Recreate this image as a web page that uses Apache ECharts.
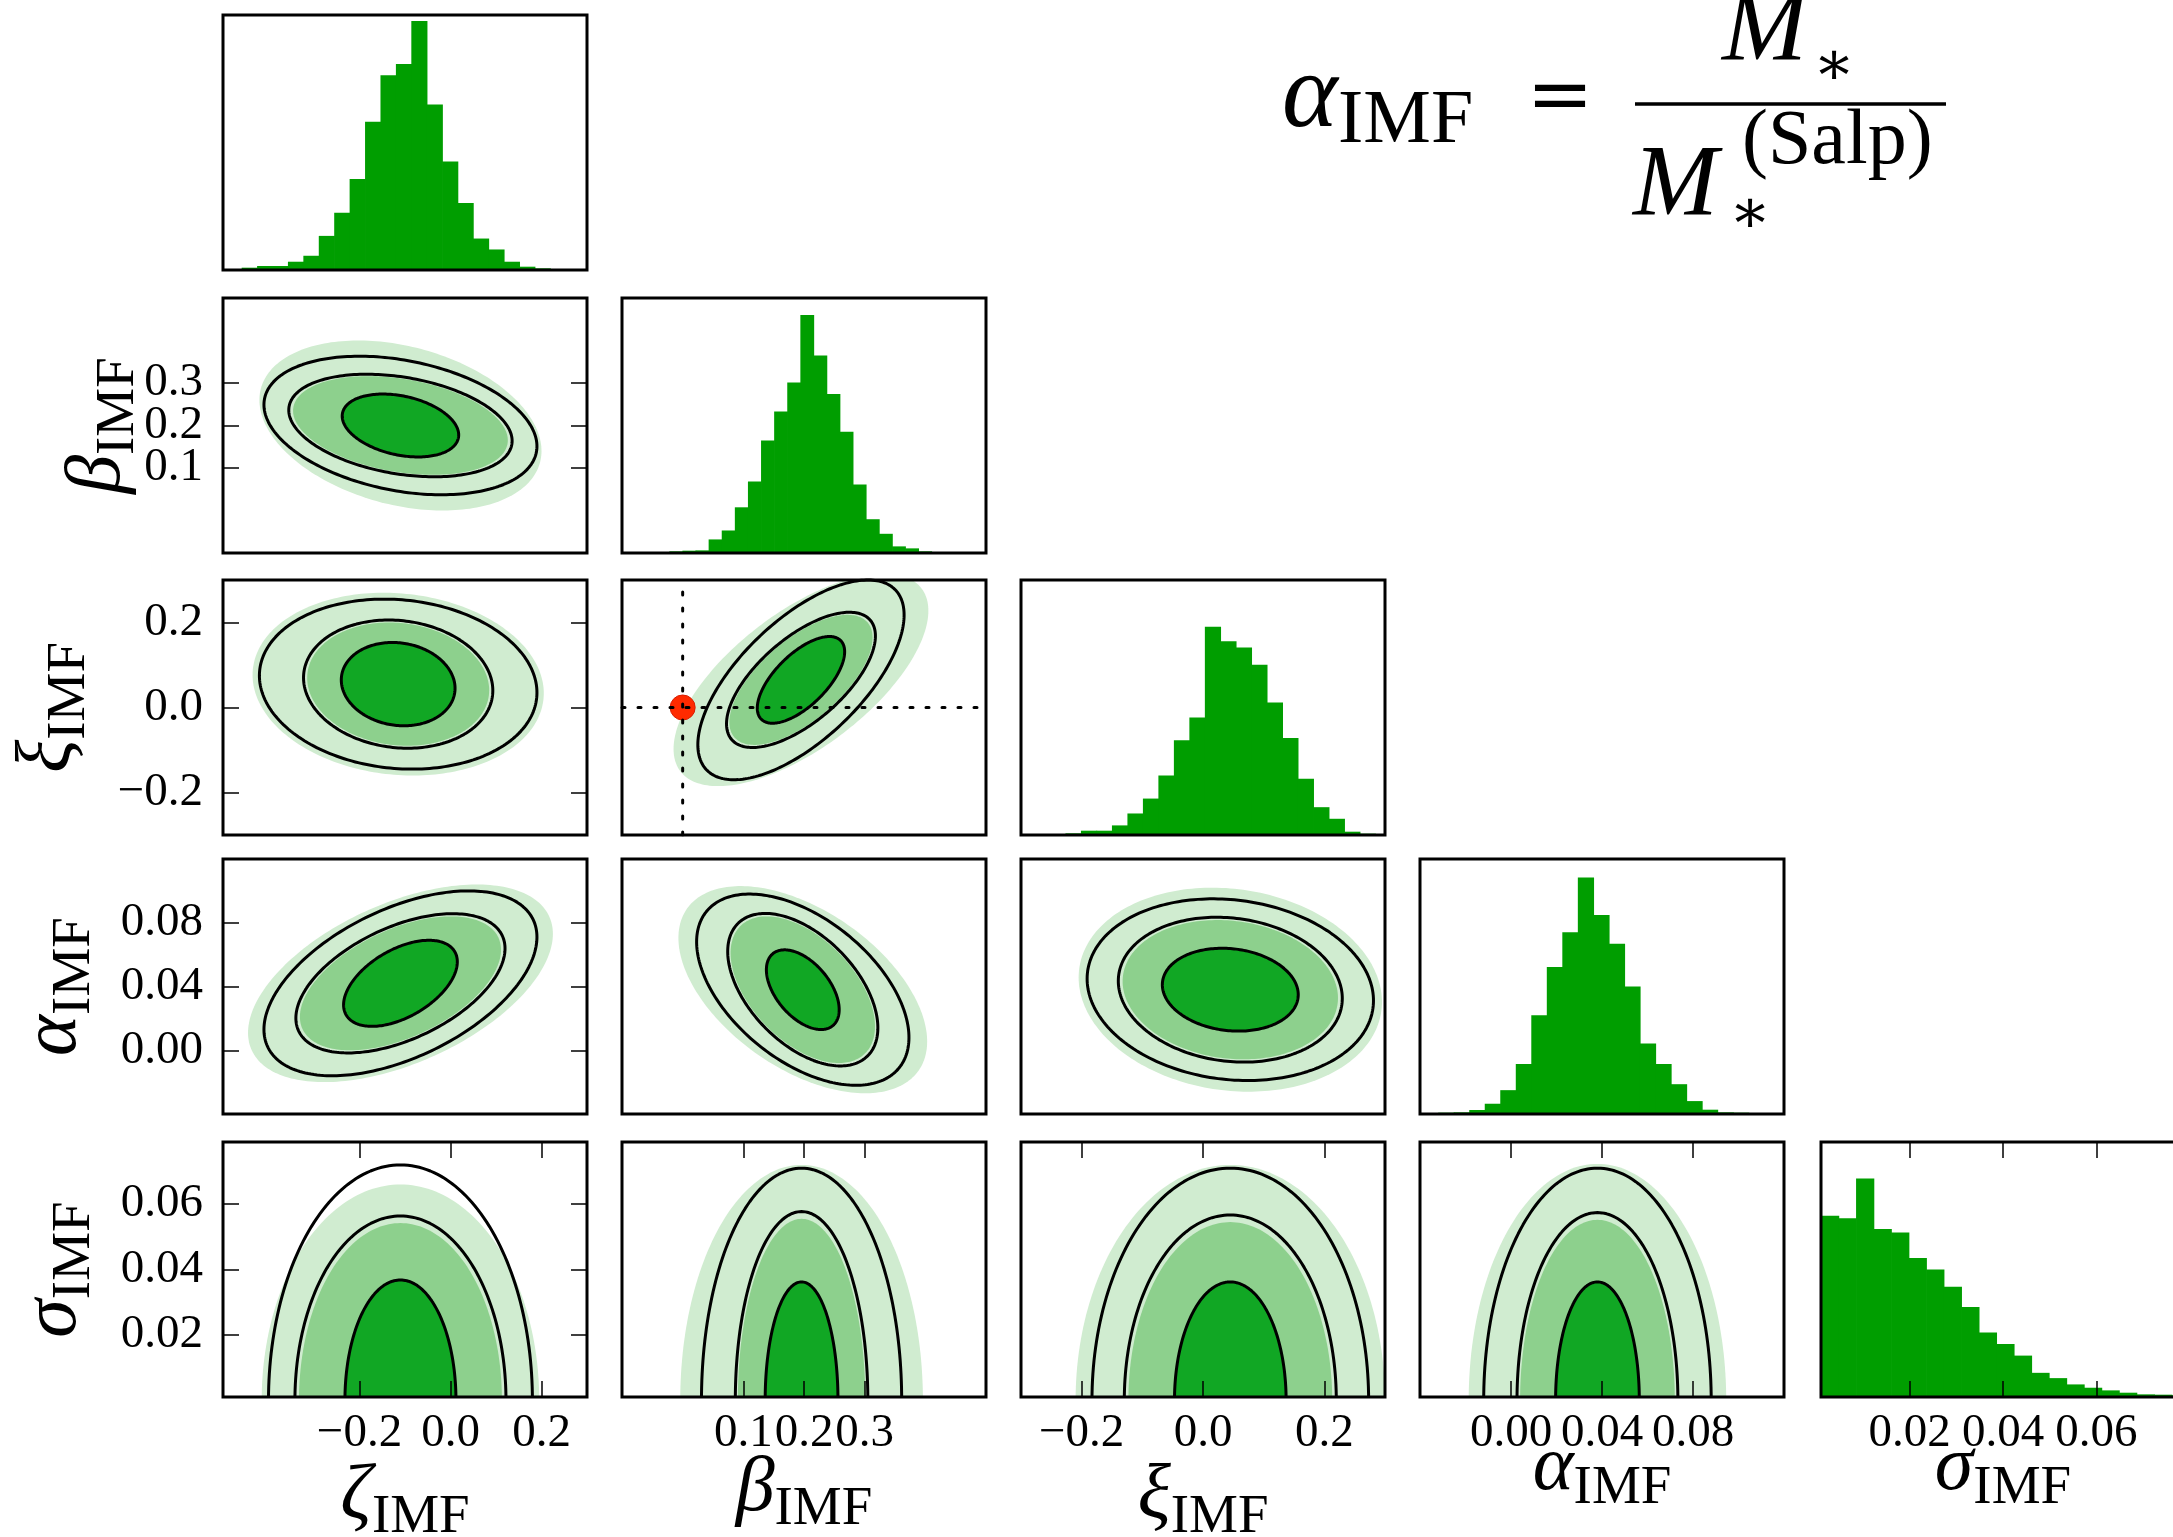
<!DOCTYPE html>
<html>
<head>
<meta charset="utf-8">
<script src="https://cdn.jsdelivr.net/npm/echarts@6/dist/echarts.min.js"></script>
<style>
html,body{margin:0;padding:0;background:#ffffff;}
#chart{width:2173px;height:1537px;}
</style>
</head>
<body>
<div id="chart"></div>
<script>
// ---------------- data ----------------
const PARAM_SYMBOLS = ['ζ', 'β', 'ξ', 'α', 'σ'];
const PARAM_SUBSCRIPT = 'IMF';
const AXIS_MIN = [-0.5, -0.1, -0.3, -0.04, 0.001];
const AXIS_MAX = [0.3, 0.5, 0.3, 0.12, 0.079];
const TICK_VALUES = [[-0.2, 0.0, 0.2], [0.1, 0.2, 0.3], [-0.2, 0.0, 0.2], [0.00, 0.04, 0.08], [0.02, 0.04, 0.06]];
const TICK_DECIMALS = [1, 1, 1, 2, 2];

// 1D marginal histograms (relative counts, panel top = HIST_TOP)
const HIST_START = [-0.459, -0.022, -0.2267, -0.032, 0.001];
const HIST_BIN_WIDTH = [0.0339, 0.0216, 0.02553, 0.00682, 0.003757];
const HIST_TOP = 770;
const histZeta  = [7, 12, 12, 25, 43, 103, 173, 275, 448, 588, 622, 752, 500, 328, 202, 95, 62, 25, 10, 5];
const histBeta  = [5, 7, 8, 41, 68, 138, 216, 340, 427, 515, 719, 596, 480, 366, 207, 102, 58, 20, 14, 5];
const histXi    = [5, 13, 13, 29, 65, 110, 180, 286, 355, 629, 585, 566, 514, 400, 293, 170, 84, 49, 10, 4];
const histAlpha = [4, 5, 12, 31, 72, 151, 298, 444, 549, 714, 601, 514, 385, 213, 151, 90, 39, 13, 5, 4];
const histSigma = [547, 540, 660, 507, 497, 420, 385, 333, 272, 195, 160, 125, 73, 57, 38, 28, 20, 13, 8, 7, 5];
const HISTS = [histZeta, histBeta, histXi, histAlpha, histSigma];

// 2D panels: [row (y parameter), col (x parameter)]
const contourPanels = [[1,0],[2,0],[2,1],[3,0],[3,1],[3,2],[4,0],[4,1],[4,2],[4,3]];
const contourCenter = [[-0.11,0.20],[-0.115,0.055],[0.195,0.065],[-0.11,0.042],[0.198,0.038],[0.045,0.038],[-0.11,0.0],[0.196,0.0],[0.045,0.0],[0.038,0.0]];
const contourCorr   = [-0.3, -0.1, 0.65, 0.5, -0.5, -0.12, 0, 0, 0, 0];
// half extents (x, y) of each credible region
const regionInner  = [[0.128,0.074],[0.125,0.098],[0.072,0.102],[0.125,0.027],[0.06,0.025],[0.112,0.026],[0.122,0.0368],[0.06,0.0362],[0.092,0.0362],[0.0184,0.0362]];
const regionMiddle = [[0.236,0.116],[0.2,0.145],[0.118,0.153],[0.221,0.042],[0.119,0.046],[0.1775,0.0437],[0.223,0.0542],[0.105,0.0555],[0.168,0.0545],[0.034,0.0552]];
const regionOuter  = [[0.31,0.2],[0.32,0.215],[0.21,0.25],[0.335,0.062],[0.205,0.065],[0.25,0.064],[0.305,0.066],[0.2,0.072],[0.255,0.072],[0.0566,0.0723]];
const lineOuter    = [[0.30,0.163],[0.305,0.2],[0.17,0.235],[0.3,0.058],[0.175,0.06],[0.236,0.057],[0.29,0.072],[0.165,0.071],[0.228,0.071],[0.05,0.071]];
const MIDDLE_LINE_SCALE = 1.04;

// true input value shown in the β–ξ panel
const TRUTH_BETA = 0.0;
const TRUTH_XI = 0.0;

// formula text
const FORMULA = {lhs: 'α', lhsSub: 'IMF', eq: '=', num: 'M', star: '∗', den: 'M', denSup: '(Salp)'};

// ---------------- layout & style ----------------
const COL_LEFT = [223, 622, 1021, 1420, 1821];
const ROW_TOP = [15, 298, 580, 859, 1142];
const PANEL_W = 364, PANEL_H = 255;
const X_NAME_GAP = [61, 53, 61, 32, 32];
const Y_NAME_GAP = [0, 77, 126, 121, 121];
const FONT = '"Liberation Serif", "DejaVu Serif", serif';
const HIST_COLOR = '#009e00';
const FILL_COLORS = ['#d0ecd0', '#8dd08d', '#11a724'];
const LINE_COLOR = '#000000';

const tickStyle = {show: true, inside: true, length: 16, lineStyle: {color: '#000', width: 1.5}};
const nameRich = {
  g: {fontFamily: FONT, fontStyle: 'italic', fontSize: 78, color: '#000', verticalAlign: 'top'},
  s: {fontFamily: FONT, fontSize: 55, color: '#000', verticalAlign: 'top', padding: [32, 0, 0, 0]}
};
function fmt(i) {
  return v => Number(v).toFixed(TICK_DECIMALS[i]).replace('-', '\u2212');
}

// ---------------- helpers ----------------
function clipPolygon(pts, r) {
  const x0 = r.x, x1 = r.x + r.width, y0 = r.y, y1 = r.y + r.height;
  const planes = [
    [p => p[0] >= x0, (a, b) => { const t = (x0 - a[0]) / (b[0] - a[0]); return [x0, a[1] + t * (b[1] - a[1])]; }],
    [p => p[0] <= x1, (a, b) => { const t = (x1 - a[0]) / (b[0] - a[0]); return [x1, a[1] + t * (b[1] - a[1])]; }],
    [p => p[1] >= y0, (a, b) => { const t = (y0 - a[1]) / (b[1] - a[1]); return [a[0] + t * (b[0] - a[0]), y0]; }],
    [p => p[1] <= y1, (a, b) => { const t = (y1 - a[1]) / (b[1] - a[1]); return [a[0] + t * (b[0] - a[0]), y1]; }]
  ];
  let out = pts;
  for (const [inside, cut] of planes) {
    const src = out; out = [];
    for (let i = 0; i < src.length; i++) {
      const cur = src[i], prev = src[(i + src.length - 1) % src.length];
      const ci = inside(cur), pi = inside(prev);
      if (ci) { if (!pi) out.push(cut(prev, cur)); out.push(cur); }
      else if (pi) out.push(cut(prev, cur));
    }
    if (!out.length) break;
  }
  return out;
}
function clampPt(p, r) {
  return [Math.min(Math.max(p[0], r.x), r.x + r.width), Math.min(Math.max(p[1], r.y), r.y + r.height)];
}
function openRuns(pts, r) {
  const inside = p => p[0] >= r.x && p[0] <= r.x + r.width && p[1] >= r.y && p[1] <= r.y + r.height;
  const flags = pts.map(inside);
  if (flags.every(f => f)) return [pts.concat([pts[0]])];
  const n = pts.length, start = flags.indexOf(false);
  const runs = []; let cur = null;
  for (let k = 0; k <= n; k++) {
    const i = (start + k) % n;
    if (flags[i]) { if (!cur) cur = [clampPt(pts[(i - 1 + n) % n], r)]; cur.push(pts[i]); }
    else if (cur) { cur.push(clampPt(pts[i], r)); runs.push(cur); cur = null; }
  }
  if (cur) runs.push(cur);
  return runs;
}
function ellipsePoints(api, cx, cy, hx, hy, rho) {
  const s = Math.sqrt(1 - rho * rho), pts = [], n = 220;
  for (let i = 0; i < n; i++) {
    const t = Math.PI / 2 + 2 * Math.PI * i / n;
    pts.push(api.coord([cx + hx * Math.cos(t), cy + hy * (rho * Math.cos(t) + s * Math.sin(t))]));
  }
  return pts;
}

// ---------------- build option ----------------
const grids = [], xAxes = [], yAxes = [], series = [];
const panelAxes = {};
const noLine = {show: false, onZero: false};
function labelStyle(values, i, margin) {
  return {show: true, customValues: values, formatter: fmt(i), hideOverlap: false,
    showMinLabel: true, showMaxLabel: true, fontFamily: FONT, fontSize: 47, lineHeight: 30,
    color: '#000', margin: margin};
}
for (let r = 0; r < 5; r++) {
  for (let c = 0; c <= r; c++) {
    const g = grids.length;
    grids.push({left: COL_LEFT[c], top: ROW_TOP[r], width: PANEL_W, height: PANEL_H,
      show: true, borderColor: '#000', borderWidth: 3, backgroundColor: 'transparent', z: 5,
      containLabel: false, outerBoundsMode: 'none'});
    const isDiag = r === c;
    const xLab = r === 4;
    const yLab = c === 0 && r > 0;
    const xa = {
      type: 'value', gridIndex: g, position: 'bottom', min: AXIS_MIN[c], max: AXIS_MAX[c], z: 6,
      axisLine: noLine, splitLine: {show: false},
      axisTick: xLab ? Object.assign({customValues: TICK_VALUES[c]}, tickStyle) : {show: false},
      axisLabel: xLab ? labelStyle(TICK_VALUES[c], c, 22) : {show: false}
    };
    if (xLab) {
      xa.name = '{g|' + PARAM_SYMBOLS[c] + '}{s|' + PARAM_SUBSCRIPT + '}';
      xa.nameLocation = 'middle';
      xa.nameGap = X_NAME_GAP[c];
      xa.nameMoveOverlap = false;
      xa.nameTextStyle = {rich: nameRich};
    }
    const xIndex = xAxes.length;
    xAxes.push(xa);
    if (xLab) {
      xAxes.push({type: 'value', gridIndex: g, position: 'top', min: AXIS_MIN[c], max: AXIS_MAX[c], z: 6,
        axisLine: noLine, splitLine: {show: false}, axisLabel: {show: false},
        axisTick: Object.assign({customValues: TICK_VALUES[c]}, tickStyle)});
    }
    const yMin = isDiag ? 0 : AXIS_MIN[r], yMax = isDiag ? HIST_TOP : AXIS_MAX[r];
    // the outer two tick labels sit on the main left axis, the middle one on a twin axis
    const ya = {
      type: 'value', gridIndex: g, position: 'left', min: yMin, max: yMax, z: 6,
      axisLine: noLine, splitLine: {show: false},
      axisTick: yLab ? Object.assign({customValues: TICK_VALUES[r]}, tickStyle) : {show: false},
      axisLabel: yLab ? labelStyle([TICK_VALUES[r][0], TICK_VALUES[r][2]], r, 20) : {show: false}
    };
    if (yLab) {
      ya.name = '{g|' + PARAM_SYMBOLS[r] + '}{s|' + PARAM_SUBSCRIPT + '}';
      ya.nameLocation = 'middle';
      ya.nameRotate = 90;
      ya.nameGap = Y_NAME_GAP[r];
      ya.nameMoveOverlap = false;
      ya.nameTextStyle = {rich: nameRich};
    }
    const yIndex = yAxes.length;
    yAxes.push(ya);
    if (yLab) {
      yAxes.push({type: 'value', gridIndex: g, position: 'left', offset: 0, min: yMin, max: yMax, z: 6,
        axisLine: noLine, splitLine: {show: false}, axisTick: {show: false},
        axisLabel: labelStyle([TICK_VALUES[r][1]], r, 20)});
      yAxes.push({type: 'value', gridIndex: g, position: 'right', min: yMin, max: yMax, z: 6,
        axisLine: noLine, splitLine: {show: false}, axisLabel: {show: false},
        axisTick: Object.assign({customValues: TICK_VALUES[r]}, tickStyle)});
    }
    panelAxes[r + '_' + c] = {x: xIndex, y: yIndex};
  }
}

// histograms on the diagonal
HISTS.forEach((counts, i) => {
  const ax = panelAxes[i + '_' + i];
  const bins = counts.map((h, k) => [HIST_START[i] + k * HIST_BIN_WIDTH[i], HIST_START[i] + (k + 1) * HIST_BIN_WIDTH[i], h]);
  series.push({
    type: 'custom', xAxisIndex: ax.x, yAxisIndex: ax.y, data: bins, silent: true, z: 2,
    renderItem: (params, api) => {
      const rc = params.coordSys;
      const a = api.coord([api.value(0), 0]);
      const b = api.coord([api.value(1), api.value(2)]);
      const left = Math.max(a[0], rc.x), right = Math.min(b[0] + 0.7, rc.x + rc.width);
      if (right <= left) return null;
      return {type: 'rect', shape: {x: left, y: b[1], width: right - left, height: a[1] - b[1]},
        style: {fill: HIST_COLOR}};
    }
  });
});

// 2D credible regions and contour lines
contourPanels.forEach(([r, c], k) => {
  const ax = panelAxes[r + '_' + c];
  const levels = [
    {h: regionOuter[k], fill: FILL_COLORS[0]},
    {h: regionMiddle[k], fill: FILL_COLORS[1]},
    {h: regionInner[k], fill: FILL_COLORS[2]},
    {h: regionInner[k], line: true},
    {h: [regionMiddle[k][0] * MIDDLE_LINE_SCALE, regionMiddle[k][1] * MIDDLE_LINE_SCALE], line: true},
    {h: lineOuter[k], line: true}
  ];
  series.push({
    type: 'custom', xAxisIndex: ax.x, yAxisIndex: ax.y, silent: true, z: 2,
    data: levels.map(() => contourCenter[k]),
    renderItem: (params, api) => {
      const lv = levels[params.dataIndex];
      const rc = params.coordSys;
      const pts = ellipsePoints(api, api.value(0), api.value(1), lv.h[0], lv.h[1], contourCorr[k]);
      if (!lv.line) {
        const poly = clipPolygon(pts, rc);
        if (poly.length < 3) return null;
        return {type: 'polygon', shape: {points: poly}, style: {fill: lv.fill, stroke: null}};
      }
      const runs = openRuns(pts, rc);
      return {type: 'group', children: runs.map(run => ({
        type: 'polyline', shape: {points: run},
        style: {fill: 'none', stroke: LINE_COLOR, lineWidth: 3, lineJoin: 'round'}
      }))};
    }
  });
});

// truth marker in the β–ξ panel
(function () {
  const ax = panelAxes['2_1'];
  series.push({type: 'scatter', xAxisIndex: ax.x, yAxisIndex: ax.y, data: [[TRUTH_BETA, TRUTH_XI]],
    symbol: 'circle', symbolSize: 25, z: 3, silent: true,
    itemStyle: {color: '#ff2a00', borderColor: '#d81c00', borderWidth: 1, opacity: 1}});
  const dotted = {color: '#000', width: 3, type: [3, 13], cap: 'round'};
  series.push({type: 'line', xAxisIndex: ax.x, yAxisIndex: ax.y, z: 4, silent: true, symbol: 'none',
    data: [[TRUTH_BETA, AXIS_MIN[2]], [TRUTH_BETA, AXIS_MAX[2]]], lineStyle: dotted});
  series.push({type: 'line', xAxisIndex: ax.x, yAxisIndex: ax.y, z: 4, silent: true, symbol: 'none',
    data: [[AXIS_MIN[1], TRUTH_XI], [AXIS_MAX[1], TRUTH_XI]], lineStyle: dotted});
})();

// formula (top right)
function txt(text, x, y, size, italic, align, family) {
  return {type: 'text', x: x, y: y, silent: true, z: 10, style: {
    text: text, fill: '#000', font: (italic ? 'italic ' : '') + size + 'px ' + (family || FONT),
    textAlign: align || 'left', textVerticalAlign: 'middle', align: align || 'left', verticalAlign: 'middle'}};
}
const graphic = [
  txt(FORMULA.lhs, 1282, 98, 106, true),
  txt(FORMULA.lhsSub, 1338, 122, 76, false),
  txt(FORMULA.eq, 1560, 100, 80, false, 'center', '"DejaVu Serif", serif'),
  {type: 'line', silent: true, z: 10, shape: {x1: 1635, y1: 104, x2: 1946, y2: 104}, style: {stroke: '#000', lineWidth: 3.5}},
  txt(FORMULA.num, 1722, 33, 102, true),
  txt(FORMULA.star, 1834, 68, 62, false, 'center'),
  txt(FORMULA.den, 1633, 188, 102, true),
  txt(FORMULA.star, 1750, 216, 62, false, 'center'),
  txt(FORMULA.denSup, 1742, 143, 78, false)
];

const option = {
  animation: false,
  backgroundColor: '#ffffff',
  textStyle: {fontFamily: FONT},
  grid: grids,
  xAxis: xAxes,
  yAxis: yAxes,
  series: series,
  graphic: graphic
};
const chart = echarts.init(document.getElementById('chart'), null, {renderer: 'canvas', width: 2173, height: 1537});
chart.setOption(option);
</script>
</body>
</html>
